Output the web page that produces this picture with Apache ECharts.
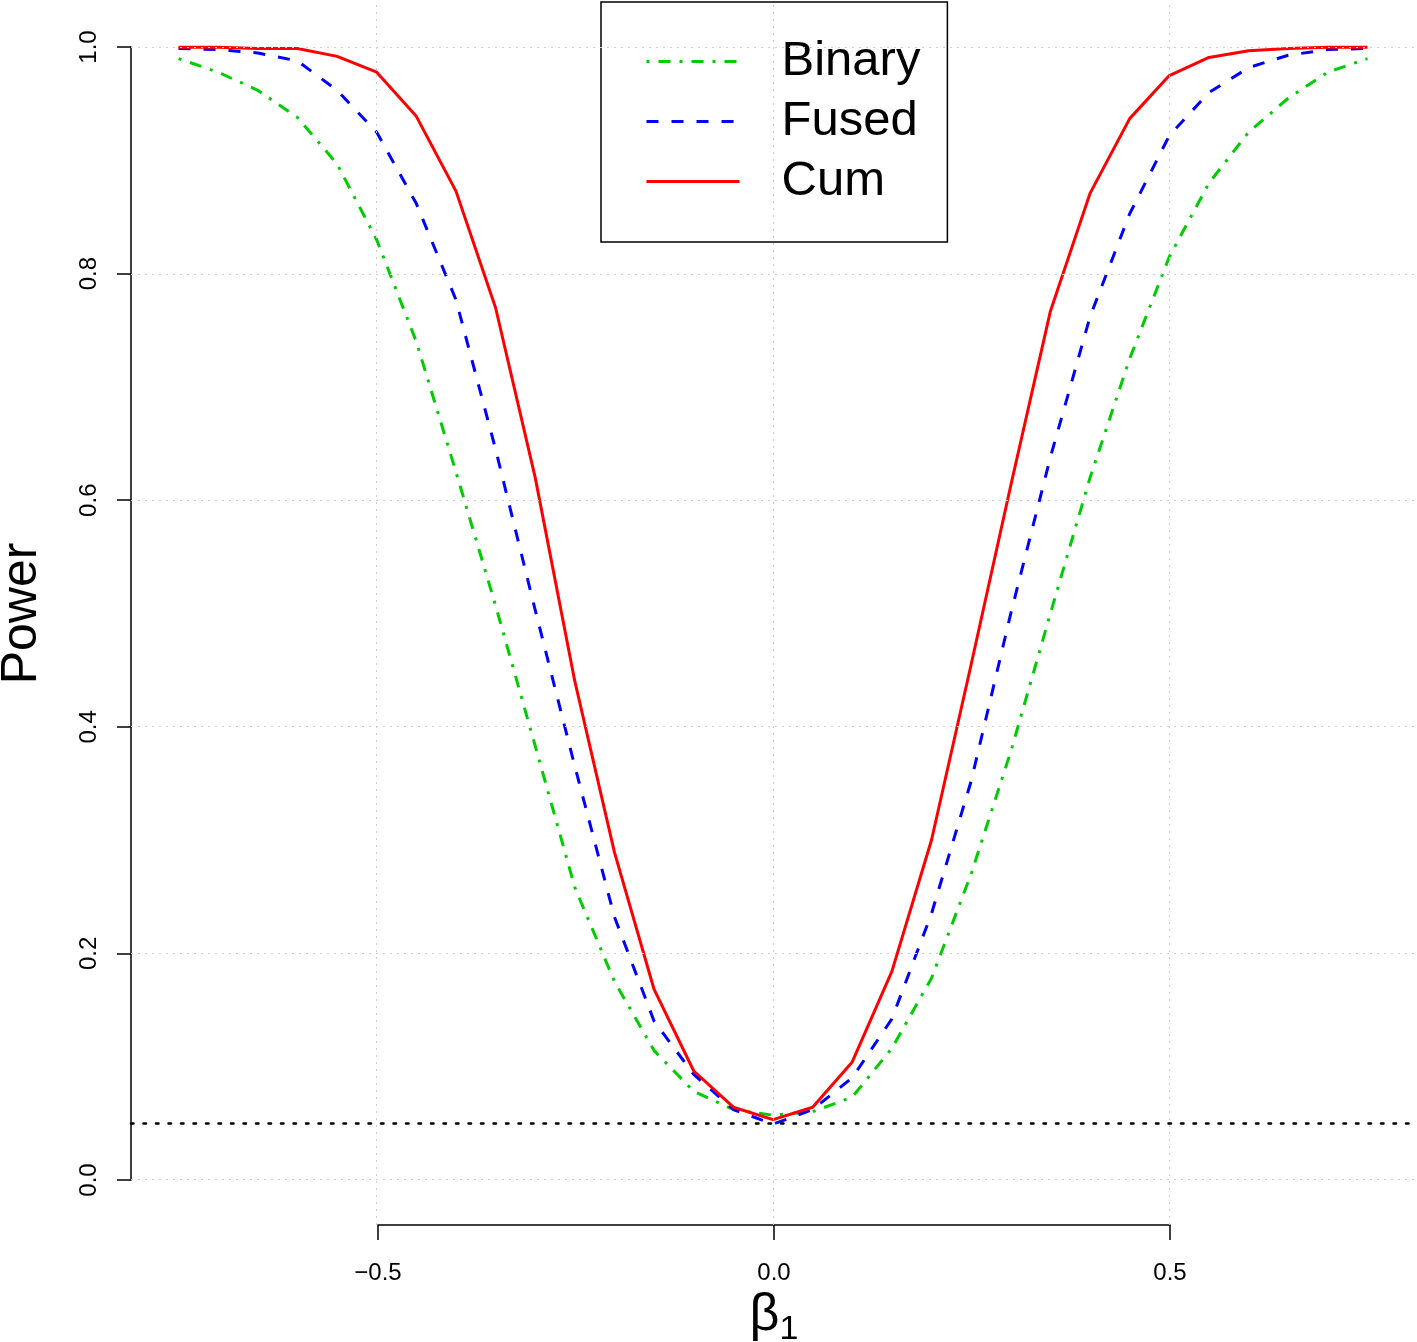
<!DOCTYPE html>
<html>
<head>
<meta charset="utf-8">
<script src="https://cdn.jsdelivr.net/npm/echarts@6/dist/echarts.min.js"></script>
<style>
  html, body { margin: 0; padding: 0; background: #fff; }
  #chart { width: 1417px; height: 1342px; }
</style>
</head>
<body>
<div id="chart"></div>
<script>
// beta_1 values, step 0.05
var betaValues = [-0.75, -0.70, -0.65, -0.60, -0.55, -0.50, -0.45, -0.40, -0.35, -0.30, -0.25,
  -0.20, -0.15, -0.10, -0.05, 0.00, 0.05, 0.10, 0.15, 0.20, 0.25, 0.30, 0.35, 0.40, 0.45, 0.50,
  0.55, 0.60, 0.65, 0.70, 0.75];

var binaryPower = [0.990, 0.978, 0.962, 0.938, 0.897, 0.830, 0.740, 0.625, 0.507, 0.383, 0.258,
  0.175, 0.114, 0.078, 0.062, 0.057, 0.060, 0.073, 0.116, 0.178, 0.270, 0.378, 0.500, 0.620, 0.725,
  0.815, 0.880, 0.925, 0.955, 0.978, 0.990];

var fusedPower = [0.999, 0.998, 0.995, 0.988, 0.962, 0.925, 0.862, 0.777, 0.645, 0.503, 0.365,
  0.232, 0.140, 0.093, 0.062, 0.049, 0.062, 0.090, 0.142, 0.235, 0.352, 0.500, 0.638, 0.762, 0.853,
  0.922, 0.960, 0.982, 0.993, 0.998, 0.999];

var cumPower = [1.000, 1.000, 0.999, 0.999, 0.992, 0.978, 0.939, 0.873, 0.770, 0.620, 0.440,
  0.289, 0.168, 0.096, 0.064, 0.053, 0.064, 0.104, 0.184, 0.300, 0.455, 0.613, 0.767, 0.871, 0.937,
  0.975, 0.991, 0.997, 0.999, 1.000, 1.000];

var seriesNames = ['Binary', 'Fused', 'Cum'];
var xTicks = [-0.5, 0, 0.5];
var yTicks = [0, 0.2, 0.4, 0.6, 0.8, 1.0];
var alphaLevel = 0.05;

var font = '"Liberation Sans", Arial, Helvetica, sans-serif';

function pairs(ys) {
  return betaValues.map(function (x, i) { return [x, ys[i]]; });
}

var gridStyle = { color: '#cfcfcf', type: [2, 5], width: 1 };
var refLines = [];
xTicks.forEach(function (v) { refLines.push({ xAxis: v, lineStyle: gridStyle }); });
yTicks.forEach(function (v) { refLines.push({ yAxis: v, lineStyle: gridStyle }); });
refLines.push({ yAxis: alphaLevel, lineStyle: { color: '#000', type: [2.5, 10], width: 2.5, cap: 'round' } });

var chart = echarts.init(document.getElementById('chart'));

var option = {
  backgroundColor: '#fff',
  animation: false,
  textStyle: { fontFamily: font },
  grid: [
    { left: 131, right: 2, top: 2, bottom: 117, outerBoundsMode: 'none', containLabel: false },
    { left: 378, right: 247, top: 47, bottom: 162, outerBoundsMode: 'none', containLabel: false }
  ],
  xAxis: [
    { gridIndex: 0, type: 'value', min: -0.81, max: 0.81, show: false },
    {
      gridIndex: 1, type: 'value', min: -0.5, max: 0.5, interval: 0.5,
      position: 'bottom', offset: 45,
      axisLine: { show: true, onZero: false, lineStyle: { color: '#000', width: 1.5 } },
      axisTick: { show: true, length: 15, lineStyle: { color: '#000', width: 1.5 } },
      splitLine: { show: false },
      axisLabel: {
        fontSize: 24, color: '#000', fontFamily: font, margin: 36,
        formatter: function (v) { return v < 0 ? '\u2212' + Math.abs(v).toFixed(1) : v.toFixed(1); }
      },
      name: '{b|\u03b2}{s|1}',
      nameLocation: 'middle',
      nameGap: 59,
      nameTextStyle: {
        color: '#000',
        rich: {
          b: { fontSize: 52, fontFamily: font, color: '#000' },
          s: { fontSize: 34, fontFamily: font, color: '#000', padding: [28, 0, 0, 0] }
        }
      }
    }
  ],
  yAxis: [
    { gridIndex: 0, type: 'value', min: -0.04, max: 1.04, show: false },
    {
      gridIndex: 1, type: 'value', min: 0, max: 1, interval: 0.2,
      position: 'left', offset: 247,
      axisLine: { show: true, onZero: false, lineStyle: { color: '#000', width: 1.5 } },
      axisTick: { show: true, length: 14, lineStyle: { color: '#000', width: 1.5 } },
      splitLine: { show: false },
      axisLabel: {
        fontSize: 24, color: '#000', fontFamily: font, margin: 30, rotate: 90,
        formatter: function (v) { return v.toFixed(1); }
      },
      name: 'Power',
      nameLocation: 'middle',
      nameGap: 84,
      nameTextStyle: { fontSize: 50, color: '#000', fontFamily: font }
    }
  ],
  legend: {
    orient: 'vertical',
    left: 601,
    top: 2,
    borderColor: '#000',
    borderWidth: 1.5,
    padding: [32, 27, 33, 44],
    itemWidth: 93,
    itemHeight: 14,
    itemGap: 5,
    itemStyle: { opacity: 0 },
    lineStyle: { width: 3 },
    textStyle: { fontSize: 49, color: '#000', fontFamily: font, lineHeight: 50, padding: [5, 0, 0, 37] },
    data: seriesNames
  },
  series: [
    {
      name: 'ref', type: 'line', data: [], z: 1, silent: true,
      markLine: { silent: true, symbol: ['none', 'none'], label: { show: false }, data: refLines }
    },
    {
      name: 'Binary', type: 'line', data: pairs(binaryPower), symbol: 'none', z: 2,
      lineStyle: { color: '#00cd00', width: 3, type: [3, 9, 12, 9], cap: 'butt' },
      itemStyle: { color: '#00cd00' }
    },
    {
      name: 'Fused', type: 'line', data: pairs(fusedPower), symbol: 'none', z: 3,
      lineStyle: { color: '#0000ff', width: 3, type: [12, 13], cap: 'butt' },
      itemStyle: { color: '#0000ff' }
    },
    {
      name: 'Cum', type: 'line', data: pairs(cumPower), symbol: 'none', z: 4,
      lineStyle: { color: '#ff0000', width: 3, type: 'solid' },
      itemStyle: { color: '#ff0000' }
    }
  ]
};

chart.setOption(option);
</script>
</body>
</html>
